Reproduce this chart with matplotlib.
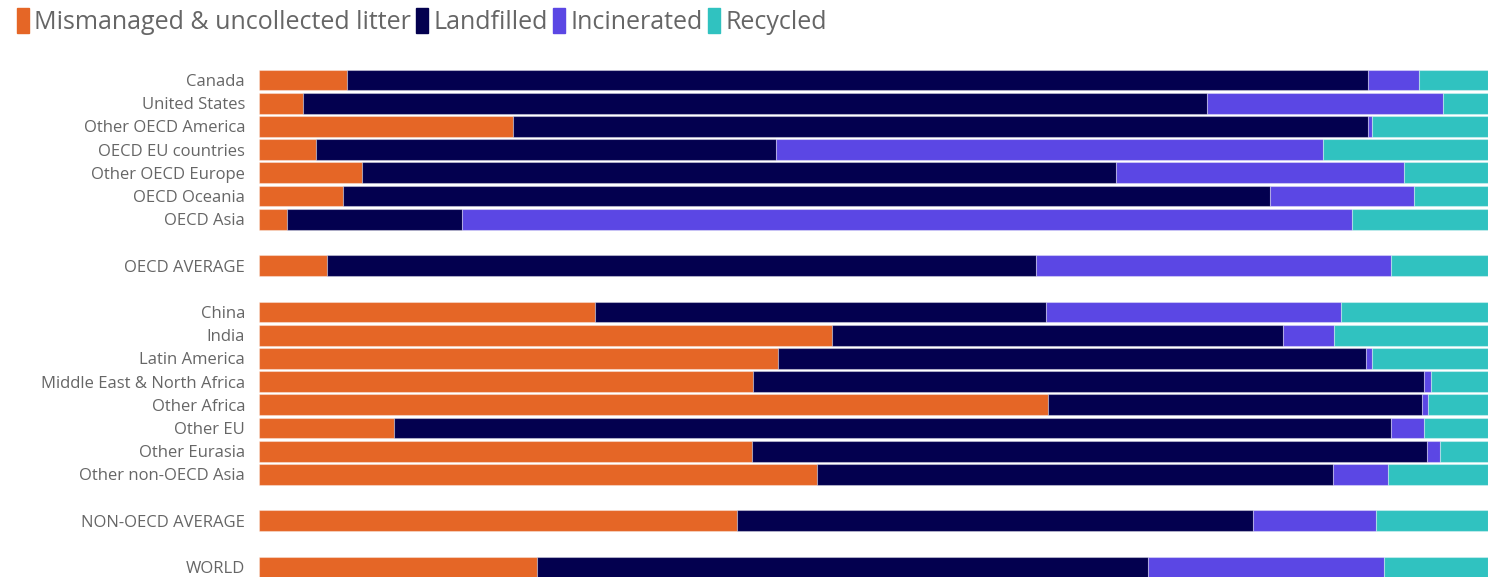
import numpy as np
from matplotlib import pyplot as plt
from matplotlib.patches import Patch

plt.rcParams['font.family'] = ['Open Sans', 'DejaVu Sans']

# rows, top to bottom; None = blank spacer row
regions = ["Canada", "United States", "Other OECD America", "OECD EU countries",
           "Other OECD Europe", "OECD Oceania", "OECD Asia", None, "OECD AVERAGE", None,
           "China", "India", "Latin America", "Middle East & North Africa", "Other Africa",
           "Other EU", "Other Eurasia", "Other non-OECD Asia", None, "NON-OECD AVERAGE",
           None, "WORLD"]

mismanaged = [7.2, 3.6, 20.7, 4.6, 8.4, 6.8, 2.3, None, 5.5, None,
              27.3, 46.6, 42.2, 40.2, 64.2, 11.0, 40.1, 45.4, None, 38.9, None, 22.6]
landfilled = [83.0, 73.5, 69.5, 37.5, 61.3, 75.5, 14.2, None, 57.7, None,
              36.7, 36.7, 47.9, 54.6, 30.4, 81.1, 54.9, 42.0, None, 42.0, None, 49.7]
incinerated = [4.2, 19.2, 0.4, 44.5, 23.5, 11.7, 72.4, None, 28.9, None,
               24.0, 4.2, 0.5, 0.6, 0.5, 2.7, 1.1, 4.5, None, 10.0, None, 19.2]
recycled = [5.6, 3.7, 9.4, 13.4, 6.8, 6.0, 11.1, None, 7.9, None,
            12.0, 12.5, 9.4, 4.6, 4.9, 5.2, 3.9, 8.1, None, 9.1, None, 8.5]

series = ["Mismanaged & uncollected litter", "Landfilled", "Incinerated", "Recycled"]
colors = ["#e56626", "#03004f", "#5b47e4", "#30c2c0"]

fig = plt.figure(figsize=(14.88, 5.77), dpi=100)
ax = fig.add_axes([259 / 1488, 0, 1229 / 1488, (577 - 68.4) / 577])

rows = [i for i, r in enumerate(regions) if r is not None]
left = np.zeros(len(rows))
for name, vals, c in zip(series, [mismanaged, landfilled, incinerated, recycled], colors):
    v = np.array([vals[i] for i in rows])
    ax.barh(rows, v, left=left, height=0.9, color=c,
            edgecolor=(1, 1, 1, 0.35), linewidth=0.8)
    left += v

ax.set_xlim(0, 100)
ax.set_ylim((577 - 80) / 23.2, -0.5)
ax.set_yticks(rows)
ax.set_yticklabels([regions[i] for i in rows], fontsize=12, color="#666666")
ax.tick_params(axis='y', length=0, pad=10)
ax.set_xticks([])
for s in ax.spines.values():
    s.set_visible(False)

handles = [Patch(facecolor=c, edgecolor=c) for c in colors]
fig.legend(handles, series, loc='upper left', bbox_to_anchor=(-0.004, 1.025), ncol=4,
           frameon=False, fontsize=18, labelcolor="#666666",
           handlelength=0.5, handleheight=1.15, handletextpad=0.2, columnspacing=0.2)

fig.savefig("out.png", dpi=100)
